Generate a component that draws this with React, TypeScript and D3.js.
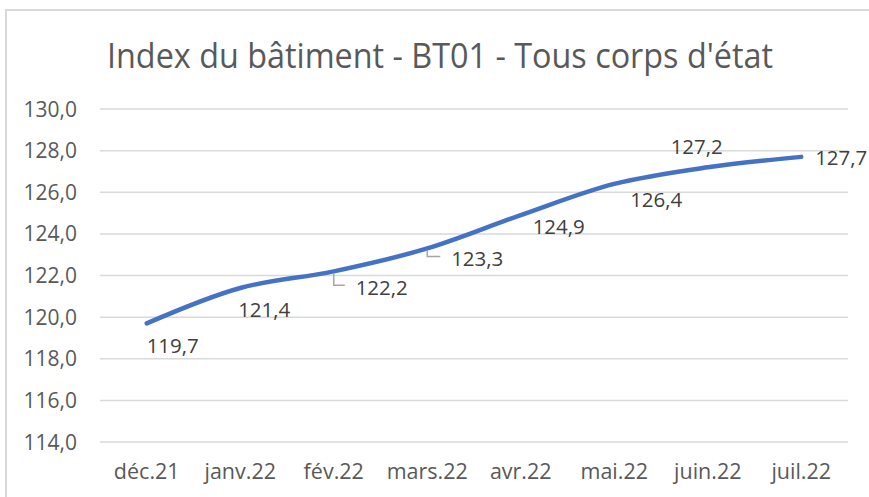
import React from "react";
import * as d3 from "d3";

const title = "Index du bâtiment - BT01 - Tous corps d'état";
const categories = ["déc.21", "janv.22", "fév.22", "mars.22", "avr.22", "mai.22", "juin.22", "juil.22"];
const values = [119.7, 121.4, 122.2, 123.3, 124.9, 126.4, 127.2, 127.7];
const yTicks = [114, 116, 118, 120, 122, 124, 126, 128, 130];

// label placement (layout only): offset of label centre from point
const labelDx = [26, 24, 48, 50, 38, 42, -11, 40];
const labelDy = [22, 22, 16, 10, 11, 16, -21, 1];
const hasLeader = [false, false, true, true, false, false, false, false];

const W = 869;
const H = 497;
const FONT = "'Open Sans', sans-serif";

export default function App() {
  const x = d3.scaleBand<string>().domain(categories).range([100, 848]).padding(0);
  const cx = (c: string) => (x(c) as number) + x.bandwidth() / 2;
  const y = d3.scaleLinear().domain([114, 130]).range([442, 109]);
  const fmt = (v: number) => v.toFixed(1).replace(".", ",");

  const line = d3
    .line<number>()
    .x((_, i) => cx(categories[i]))
    .y((d) => y(d))
    .curve(d3.curveCatmullRom.alpha(0.5));

  return (
    <svg
      width={W}
      height={H}
      style={{ position: "absolute", left: 0, top: 0, background: "#fff" }}
    >
      <rect x={6} y={10} width={W + 10} height={H + 10} fill="#fff" stroke="#D9D9D9" strokeWidth={2} />
      <text
        x={107}
        y={68}
        fontFamily={FONT}
        fontSize={34}
        fill="#595959"
        textLength={666}
        lengthAdjust="spacingAndGlyphs"
      >
        {title}
      </text>
      {yTicks.map((t) => (
        <g key={t}>
          <line x1={100} x2={848} y1={y(t)} y2={y(t)} stroke="#D9D9D9" strokeWidth={1.5} />
          <text
            x={77}
            y={y(t)}
            dy="0.36em"
            textAnchor="end"
            fontFamily={FONT}
            fontSize={21}
            fill="#595959"
          >
            {fmt(t)}
          </text>
        </g>
      ))}
      {categories.map((c) => (
        <text
          key={c}
          x={cx(c)}
          y={479}
          textAnchor="middle"
          fontFamily={FONT}
          fontSize={21.5}
          fill="#595959"
        >
          {c}
        </text>
      ))}
      <path d={line(values) || ""} fill="none" stroke="#4472C4" strokeWidth={4.5} strokeLinecap="round" strokeLinejoin="round" />
      {values.map((v, i) => {
        const px = cx(categories[i]);
        const py = y(v);
        const lx = px + labelDx[i];
        const ly = py + labelDy[i];
        return (
          <g key={i}>
            {hasLeader[i] && (
              <polyline
                points={`${px},${py + 2} ${px},${ly - 2} ${lx - 37},${ly - 2}`}
                fill="none"
                stroke="#A6A6A6"
                strokeWidth={1.5}
              />
            )}
            <text
              x={lx}
              y={ly}
              dy="0.36em"
              textAnchor="middle"
              fontFamily={FONT}
              fontSize={20.5}
              fill="#404040"
            >
              {fmt(v)}
            </text>
          </g>
        );
      })}
    </svg>
  );
}
